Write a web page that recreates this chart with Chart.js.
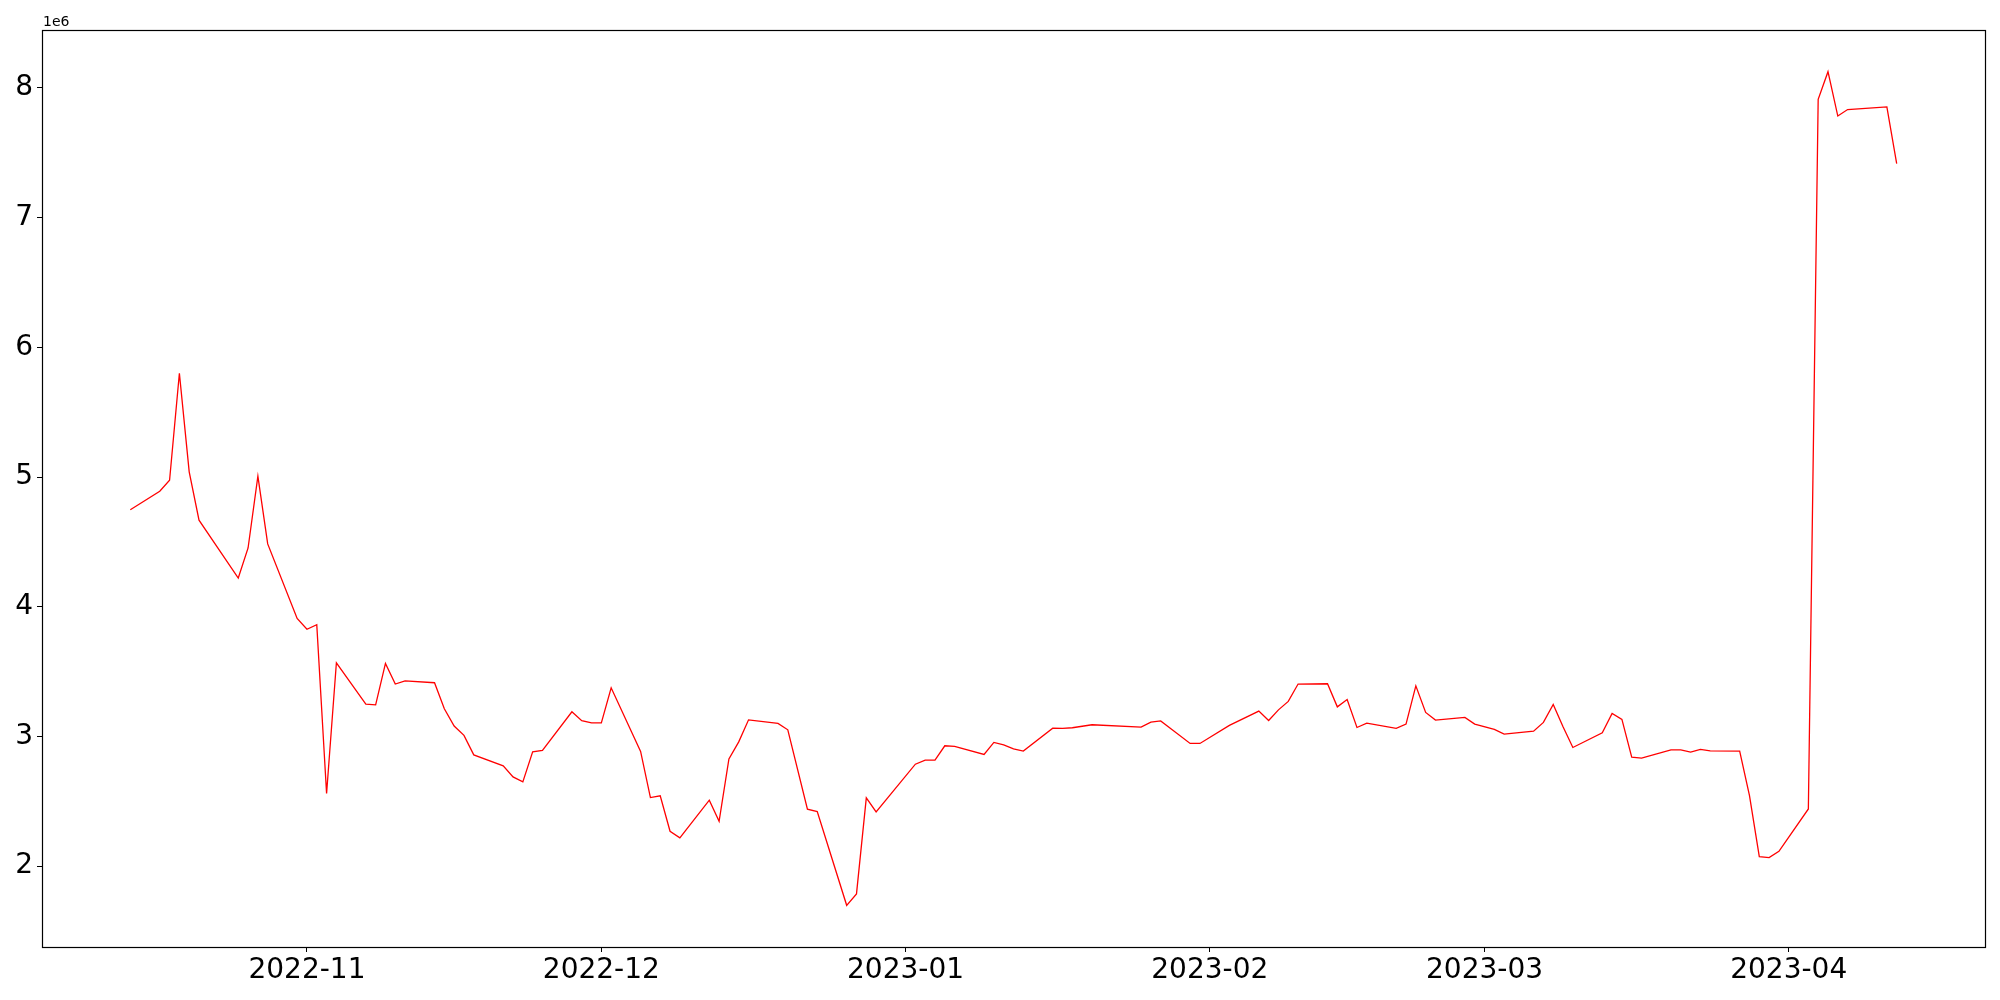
<!DOCTYPE html>
<html>
<head>
<meta charset="utf-8">
<script src="https://cdn.jsdelivr.net/npm/chart.js@4.4.0/dist/chart.umd.min.js"></script>
<style>
    html, body { margin: 0; padding: 0; background: #fff; }
    #wrap { width: 2000px; height: 1000px; }
</style>
</head>
<body>
<div id="wrap"><canvas id="chart" width="2000" height="1000"></canvas></div>
<script>
// daily values, in units of 1e6
var dates = [
    '2022-10-14', '2022-10-17', '2022-10-18', '2022-10-19', '2022-10-20', '2022-10-21',
    '2022-10-25', '2022-10-26', '2022-10-27', '2022-10-28', '2022-10-31',
    '2022-11-01', '2022-11-02', '2022-11-03', '2022-11-04', '2022-11-07', '2022-11-08',
    '2022-11-09', '2022-11-10', '2022-11-11', '2022-11-14', '2022-11-15', '2022-11-16',
    '2022-11-17', '2022-11-18', '2022-11-21', '2022-11-22', '2022-11-23', '2022-11-24',
    '2022-11-25', '2022-11-28', '2022-11-29', '2022-11-30',
    '2022-12-01', '2022-12-02', '2022-12-05', '2022-12-06', '2022-12-07', '2022-12-08',
    '2022-12-09', '2022-12-12', '2022-12-13', '2022-12-14', '2022-12-15', '2022-12-16',
    '2022-12-19', '2022-12-20', '2022-12-22', '2022-12-23', '2022-12-26', '2022-12-27',
    '2022-12-28', '2022-12-29',
    '2023-01-02', '2023-01-03', '2023-01-04', '2023-01-05', '2023-01-06', '2023-01-09',
    '2023-01-10', '2023-01-11', '2023-01-12', '2023-01-13', '2023-01-16', '2023-01-17',
    '2023-01-18', '2023-01-20', '2023-01-25', '2023-01-26', '2023-01-27', '2023-01-30',
    '2023-01-31',
    '2023-02-03', '2023-02-06', '2023-02-07', '2023-02-08', '2023-02-09', '2023-02-10',
    '2023-02-13', '2023-02-14', '2023-02-15', '2023-02-16', '2023-02-17', '2023-02-20',
    '2023-02-21', '2023-02-22', '2023-02-23', '2023-02-24', '2023-02-27', '2023-02-28',
    '2023-03-02', '2023-03-03', '2023-03-06', '2023-03-07', '2023-03-08', '2023-03-09',
    '2023-03-10', '2023-03-13', '2023-03-14', '2023-03-15', '2023-03-16', '2023-03-17',
    '2023-03-20', '2023-03-21', '2023-03-22', '2023-03-23', '2023-03-24', '2023-03-27',
    '2023-03-28', '2023-03-29', '2023-03-30', '2023-03-31',
    '2023-04-03', '2023-04-04', '2023-04-05', '2023-04-06', '2023-04-07', '2023-04-11',
    '2023-04-12'
];
var values = [
    4.748, 4.890, 4.975, 5.800, 5.040, 4.667,
    4.221, 4.453, 5.006, 4.484, 3.910,
    3.826, 3.861, 2.560, 3.568, 3.249, 3.244,
    3.563, 3.404, 3.429, 3.414, 3.213, 3.080,
    3.008, 2.858, 2.773, 2.688, 2.650, 2.881,
    2.892, 3.190, 3.121, 3.105,
    3.105, 3.375, 2.884, 2.529, 2.542, 2.269,
    2.218, 2.509, 2.346, 2.827, 2.958, 3.128,
    3.100, 3.051, 2.439, 2.421, 1.698, 1.786,
    2.526, 2.418,
    2.786, 2.817, 2.817, 2.928, 2.923, 2.861,
    2.954, 2.935, 2.904, 2.887, 3.064, 3.062,
    3.067, 3.090, 3.072, 3.110, 3.120, 2.946,
    2.946,
    3.085, 3.195, 3.123, 3.205, 3.270, 3.404,
    3.406, 3.228, 3.285, 3.069, 3.103, 3.062,
    3.095, 3.390, 3.185, 3.126, 3.147, 3.095,
    3.054, 3.018, 3.041, 3.108, 3.247, 3.074,
    2.915, 3.028, 3.177, 3.131, 2.840, 2.833,
    2.897, 2.897, 2.879, 2.900, 2.889, 2.887,
    2.543, 2.074, 2.066, 2.114,
    2.441, 7.912, 8.125, 7.783, 7.833, 7.854,
    7.416
];
var monthTicks = ['2022-11-01', '2022-12-01', '2023-01-01', '2023-02-01', '2023-03-01', '2023-04-01'];
var monthLabels = ['2022-11', '2022-12', '2023-01', '2023-02', '2023-03', '2023-04'];
var yTicks = [2, 3, 4, 5, 6, 7, 8];

(function () {
    'use strict';

    var FONT = '"DejaVu Sans", sans-serif';

    function dayNum(s) {
        var p = s.split('-');
        return Date.UTC(+p[0], +p[1] - 1, +p[2]) / 86400000;
    }

    var points = dates.map(function (d, i) {
        return { x: dayNum(d), y: values[i] };
    });

    // matplotlib style 5% margins
    var xs = points.map(function (p) { return p.x; });
    var xMin = Math.min.apply(null, xs);
    var xMax = Math.max.apply(null, xs);
    var yMin = Math.min.apply(null, values);
    var yMax = Math.max.apply(null, values);
    var xPad = (xMax - xMin) * 0.05;
    var yPad = (yMax - yMin) * 0.05;

    var tickDays = monthTicks.map(dayNum);

    var framePlugin = {
        id: 'frame',
        afterDraw: function (chart) {
            var a = chart.chartArea;
            var ctx = chart.ctx;
            ctx.save();
            ctx.strokeStyle = '#000';
            ctx.lineWidth = 1.2;
            ctx.strokeRect(Math.round(a.left) + 0.5, Math.round(a.top) + 0.5,
                Math.round(a.right - a.left), Math.round(a.bottom - a.top));
            ctx.fillStyle = '#000';
            ctx.font = '14px ' + FONT;
            ctx.textAlign = 'left';
            ctx.textBaseline = 'alphabetic';
            ctx.fillText('1e6', a.left + 1, a.top - 4);
            ctx.restore();
        }
    };

    new Chart(document.getElementById('chart').getContext('2d'), {
        type: 'line',
        data: {
            datasets: [{
                data: points,
                borderColor: '#ff0000',
                borderWidth: 1.3,
                pointRadius: 0,
                fill: false,
                tension: 0
            }]
        },
        options: {
            responsive: false,
            animation: false,
            devicePixelRatio: 1,
            layout: { padding: { top: 30, right: 15, left: 0, bottom: 0 } },
            plugins: {
                legend: { display: false },
                tooltip: { enabled: false }
            },
            scales: {
                x: {
                    type: 'linear',
                    min: xMin - xPad,
                    max: xMax + xPad,
                    afterBuildTicks: function (scale) {
                        scale.ticks = tickDays.map(function (v) { return { value: v }; });
                    },
                    afterFit: function (scale) { scale.height = 53; },
                    grid: {
                        drawOnChartArea: false,
                        drawTicks: true,
                        tickLength: 5,
                        tickColor: '#000',
                        tickWidth: 1
                    },
                    border: { display: true, color: '#000', width: 1 },
                    ticks: {
                        autoSkip: false,
                        maxRotation: 0,
                        padding: 2,
                        color: '#000',
                        font: { family: FONT, size: 28 },
                        callback: function (v) {
                            var i = tickDays.indexOf(v);
                            return i >= 0 ? monthLabels[i] : '';
                        }
                    }
                },
                y: {
                    type: 'linear',
                    min: yMin - yPad,
                    max: yMax + yPad,
                    afterBuildTicks: function (scale) {
                        scale.ticks = yTicks.map(function (v) { return { value: v }; });
                    },
                    afterFit: function (scale) { scale.width = 42; },
                    grid: {
                        drawOnChartArea: false,
                        drawTicks: true,
                        tickLength: 5,
                        tickColor: '#000',
                        tickWidth: 1
                    },
                    border: { display: true, color: '#000', width: 1 },
                    ticks: {
                        padding: 4,
                        color: '#000',
                        font: { family: FONT, size: 28 },
                        callback: function (v) { return String(v); }
                    }
                }
            }
        },
        plugins: [framePlugin]
    });
})();
</script>
</body>
</html>
